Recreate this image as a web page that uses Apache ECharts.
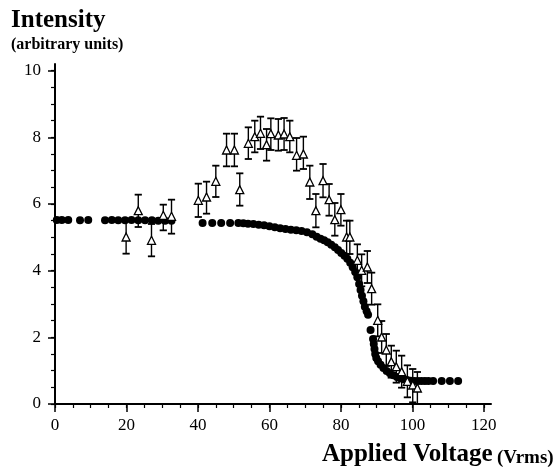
<!DOCTYPE html>
<html>
<head>
<meta charset="utf-8">
<script src="https://cdn.jsdelivr.net/npm/echarts@6/dist/echarts.min.js"></script>
<style>html,body{margin:0;padding:0;background:#fff}#c{width:557px;height:469px}</style>
</head>
<body>
<div id="c"></div>
<script>
// ---- tick labels ----
const xMajor = [0, 20, 40, 60, 80, 100, 120];
const xMinor = [0, 5, 10, 15, 20, 25, 30, 35, 40, 45, 50, 55, 60, 65, 70, 75, 80, 85, 90, 95, 100, 105, 110, 115, 120];
const yMajor = [0, 2, 4, 6, 8, 10];
const yMinor = [0, 0.5, 1, 1.5, 2, 2.5, 3, 3.5, 4, 4.5, 5, 5.5, 6, 6.5, 7, 7.5, 8, 8.5, 9, 9.5, 10];

// ---- filled circles (voltage, intensity) ----
const dotX = [0.5, 1.9, 3.7, 7.0, 9.3, 14.0, 15.9, 17.7, 19.6, 21.4, 23.3, 25.2, 27.1, 28.9, 30.8, 32.6,
  41.3, 44.0, 46.5, 49.0, 51.3,
  52.7, 54, 55.5, 57, 58.5, 60, 61.5, 63, 64.5, 66, 67.5, 69, 70.5, 72, 73.2, 74.3, 75.3, 76.3, 77.3, 78.3,
  79.2, 80.1, 81, 81.8, 82.6, 83.3, 84, 84.6, 85.1, 85.5, 85.9, 86.3, 86.7, 87.2, 87.6,
  88.3, 89.0, 89.2, 89.4, 89.6, 89.9, 90.4, 91.1, 91.9, 92.8, 93.7, 94.7, 95.7, 96.6, 97.5, 98.5, 99.5,
  100.5, 101.5, 102.5, 103.5, 104.5, 105.8, 108.2, 110.5, 112.8];
const dotY = [5.52, 5.52, 5.52, 5.51, 5.52, 5.51, 5.52, 5.51, 5.51, 5.52, 5.51, 5.51, 5.51, 5.5, 5.5, 5.5,
  5.43, 5.43, 5.43, 5.43, 5.43,
  5.42, 5.41, 5.40, 5.38, 5.36, 5.33, 5.30, 5.27, 5.25, 5.23, 5.21, 5.19, 5.15, 5.09, 5.02, 4.96, 4.91, 4.85, 4.78, 4.70,
  4.62, 4.53, 4.45, 4.36, 4.24, 4.10, 3.96, 3.80, 3.60, 3.42, 3.25, 3.08, 2.92, 2.78, 2.68,
  2.22, 1.95, 1.80, 1.65, 1.50, 1.38, 1.28, 1.18, 1.08, 0.99, 0.92, 0.86, 0.81, 0.77, 0.74, 0.72, 0.70,
  0.69, 0.69, 0.69, 0.69, 0.69, 0.69, 0.69, 0.69, 0.69];

// ---- open triangles with error bars ----
const triX  = [19.9, 23.3, 27.0, 30.3, 32.6,
  40.1, 42.4, 45.0, 48.0, 50.2, 51.7, 54.1, 55.9, 57.5, 59.2, 60.4, 62.5, 64.1, 65.7, 67.6, 69.5,
  71.3, 73.0, 75.0, 76.7, 78.3, 80.0, 81.6, 82.5, 84.6, 85.8, 87.4, 88.6, 90.3, 91.4, 92.7, 94.1,
  95.5, 97.0, 98.6, 100.1, 101.4];
const triY  = [5.01, 5.80, 4.91, 5.66, 5.63,
  6.11, 6.21, 6.68, 7.62, 7.62, 6.43, 7.82, 8.02, 8.12, 7.78, 8.11, 8.07, 8.10, 8.02, 7.46, 7.50,
  6.66, 5.80, 6.70, 6.13, 5.53, 5.83, 5.01, 5.01, 4.31, 4.01, 4.11, 3.46, 2.51, 2.01, 1.62, 1.27,
  1.12, 0.97, 0.68, 0.57, 0.48];
const triLo = [4.51, 5.31, 4.43, 5.21, 5.11,
  5.61, 5.71, 6.21, 7.13, 7.13, 5.95, 7.35, 7.55, 7.65, 7.30, 7.62, 7.60, 7.62, 7.55, 7.00, 7.05,
  6.15, 5.30, 6.20, 5.65, 5.05, 5.35, 4.50, 4.50, 3.85, 3.53, 3.63, 2.98, 2.03, 1.53, 1.14, 0.79,
  0.64, 0.49, 0.20, 0.05, 0.0];
const triHi = [5.51, 6.28, 5.40, 5.98, 6.13,
  6.61, 6.67, 7.15, 8.11, 8.11, 6.92, 8.30, 8.50, 8.62, 8.25, 8.57, 8.55, 8.58, 8.50, 7.98, 8.02,
  7.15, 6.30, 7.20, 6.60, 6.03, 6.30, 5.50, 5.50, 4.79, 4.49, 4.59, 3.94, 2.99, 2.49, 2.10, 1.75,
  1.60, 1.45, 1.16, 1.05, 0.96];

const FONT = '"Liberation Serif", "Times New Roman", serif';
const dots = dotX.map((x, i) => [x, dotY[i]]);
const tris = triX.map((x, i) => [x, triY[i]]);
const bars = triX.map((x, i) => [x, triLo[i], triHi[i]]);

const chart = echarts.init(document.getElementById('c'), null, {renderer: 'canvas'});
const axisCommon = {type: 'value', splitLine: {show: false}};
chart.setOption({
  animation: false,
  backgroundColor: '#fff',
  grid: {left: 55, right: 66, top: 64, bottom: 65, containLabel: false},
  xAxis: [
    Object.assign({}, axisCommon, {
      min: 0, max: 122, interval: 20, position: 'bottom',
      axisLine: {onZero: false, lineStyle: {color: '#000', width: 2}},
      axisTick: {customValues: xMajor, length: 8, lineStyle: {color: '#000', width: 1.5}},
      axisLabel: {customValues: xMajor, margin: 13, color: '#000', fontSize: 17, fontFamily: FONT}
    }),
    Object.assign({}, axisCommon, {
      min: 0, max: 122, interval: 5, position: 'bottom',
      axisLine: {show: false, onZero: false},
      axisTick: {customValues: xMinor, length: 4, lineStyle: {color: '#000', width: 1.2}},
      axisLabel: {show: false}
    })
  ],
  yAxis: [
    Object.assign({}, axisCommon, {
      min: 0, max: 10.2, interval: 2, position: 'left',
      axisLine: {show: true, onZero: false, lineStyle: {color: '#000', width: 2}},
      axisTick: {show: true, customValues: yMajor, length: 7, lineStyle: {color: '#000', width: 1.5}},
      axisLabel: {customValues: yMajor, margin: 14, color: '#000', fontSize: 17, fontFamily: FONT}
    }),
    Object.assign({}, axisCommon, {
      min: 0, max: 10.2, interval: 0.5, position: 'left',
      axisLine: {show: false, onZero: false},
      axisTick: {show: true, customValues: yMinor, length: 4, lineStyle: {color: '#000', width: 1.2}},
      axisLabel: {show: false}
    })
  ],
  graphic: [
    {type: 'text', left: 11, top: 8, style: {text: 'Intensity', font: 'bold 25px ' + FONT, fill: '#000'}},
    {type: 'text', left: 11, top: 37, style: {text: '(arbitrary units)', font: 'bold 16px ' + FONT, fill: '#000'}},
    {type: 'text', left: 322, top: 442, style: {text: 'Applied Voltage', font: 'bold 25px ' + FONT, fill: '#000'}},
    {type: 'text', left: 497, top: 449, style: {text: '(Vrms)', font: 'bold 19px ' + FONT, fill: '#000'}}
  ],
  series: [
    {
      type: 'scatter', data: dots, symbol: 'circle', symbolSize: 8,
      itemStyle: {color: '#000', opacity: 1}, z: 2, silent: true
    },
    {
      type: 'custom', data: bars, z: 3, silent: true,
      renderItem: function (params, api) {
        const x = api.value(0);
        const lo = api.coord([x, api.value(1)]);
        const hi = api.coord([x, api.value(2)]);
        const w = 3.6;
        const st = {stroke: '#000', lineWidth: 1.4};
        return {
          type: 'group',
          children: [
            {type: 'line', shape: {x1: lo[0], y1: lo[1], x2: hi[0], y2: hi[1]}, style: st},
            {type: 'line', shape: {x1: lo[0] - w, y1: lo[1], x2: lo[0] + w, y2: lo[1]}, style: {stroke: '#000', lineWidth: 1.8}},
            {type: 'line', shape: {x1: hi[0] - w, y1: hi[1], x2: hi[0] + w, y2: hi[1]}, style: {stroke: '#000', lineWidth: 1.8}}
          ]
        };
      }
    },
    {
      type: 'scatter', data: tris, symbol: 'triangle', symbolSize: [8, 8],
      itemStyle: {color: '#fff', borderColor: '#000', borderWidth: 1.3, opacity: 1}, z: 4, silent: true
    }
  ]
});
</script>
</body>
</html>
